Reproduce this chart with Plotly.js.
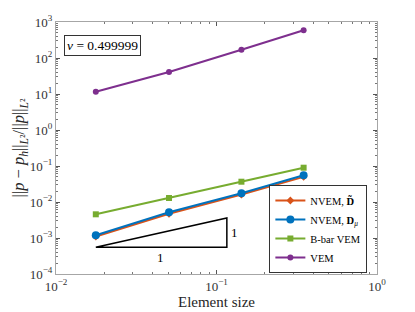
<!DOCTYPE html>
<html>
<head>
<meta charset="utf-8">
<script src="https://cdn.plot.ly/plotly-3.0.1.min.js"></script>
<style>html,body{margin:0;padding:0;background:#fff;}#chart{width:415px;height:312px;}</style>
</head>
<body>
<div id="chart"></div>
<script>
const elementSize = [0.0177, 0.0506, 0.143, 0.349];
const nvemDtilde = [0.00110, 0.0047, 0.0160, 0.050];
const nvemDmu = [0.00119, 0.00518, 0.0175, 0.0552];
const bbarVem = [0.00455, 0.0129, 0.0366, 0.0897];
const vem = [11.6, 40.8, 170, 588];
const triangleX = [0.0177, 0.116, 0.116, 0.0177];
const triangleY = [5.5e-4, 5.5e-4, 3.6e-3, 5.5e-4];
const xTickVals = [0.01, 0.1, 1];
const xTickText = ['10<sup>−2</sup>', '10<sup>−1</sup>', '10<sup>0</sup>'];
const yTickVals = [1e-4, 1e-3, 1e-2, 1e-1, 1, 10, 100, 1000];
const yTickText = ['10<sup>−4</sup>', '10<sup>−3</sup>', '10<sup>−2</sup>', '10<sup>−1</sup>', '10<sup>0</sup>', '10<sup>1</sup>', '10<sup>2</sup>', '10<sup>3</sup>'];

const serif = '"Liberation Serif", "DejaVu Serif", serif';

const traces = [
  {x: elementSize, y: nvemDtilde, mode: 'lines+markers', name: 'NVEM, <b>D̃</b>',
   line: {color: '#D95319', width: 2}, marker: {symbol: 'diamond', size: 6, color: '#D95319'}},
  {x: elementSize, y: nvemDmu, mode: 'lines+markers', name: 'NVEM, <b>D</b><sub><i>μ</i></sub>',
   line: {color: '#0072BD', width: 2}, marker: {symbol: 'circle', size: 8, color: '#0072BD'}},
  {x: elementSize, y: bbarVem, mode: 'lines+markers', name: 'B-bar VEM',
   line: {color: '#77AC30', width: 2}, marker: {symbol: 'square', size: 6, color: '#77AC30'}},
  {x: elementSize, y: vem, mode: 'lines+markers', name: 'VEM',
   line: {color: '#7E2F8E', width: 2}, marker: {symbol: 'circle', size: 6, color: '#7E2F8E'}},
  {x: triangleX, y: triangleY, mode: 'lines', showlegend: false, hoverinfo: 'skip',
   line: {color: '#000', width: 1.5}}
];

const axisCommon = {
  type: 'log', showgrid: false, zeroline: false, showline: true, mirror: 'allticks',
  linecolor: '#a6a6a6', linewidth: 1, ticks: 'inside', ticklen: 4, tickcolor: '#555',
  tickfont: {family: serif, size: 13, color: '#333'},
  minor: {ticks: 'inside', ticklen: 2, tickcolor: '#777', dtick: 'D1', showgrid: false}
};

const layout = {
  width: 415, height: 312,
  margin: {l: 56, r: 38, t: 22, b: 38},
  paper_bgcolor: '#fff', plot_bgcolor: '#fff',
  font: {family: serif, color: '#262626'},
  xaxis: Object.assign({}, axisCommon, {
    range: [-2, 0], tickvals: xTickVals, ticktext: xTickText,
    title: {text: 'Element size', font: {family: serif, size: 15, color: '#262626'}, standoff: 2}
  }),
  yaxis: Object.assign({}, axisCommon, {
    range: [-4, 3], tickvals: yTickVals, ticktext: yTickText,
    title: {text: '||<i>p</i> − <i>p<sub>h</sub></i>||<sub><i>L</i>²</sub>/||<i>p</i>||<sub><i>L</i>²</sub>',
            font: {family: serif, size: 16.5, color: '#262626'}, standoff: 0}
  }),
  showlegend: true,
  legend: {x: 0.97, y: 0.004, xanchor: 'right', yanchor: 'bottom',
           bgcolor: '#fff', bordercolor: '#333', borderwidth: 1,
           font: {family: serif, size: 10.5, color: '#000'},
           tracegroupgap: 0, itemwidth: 30},
  annotations: [
    {xref: 'paper', yref: 'paper', x: 0.025, y: 0.95, xanchor: 'left', yanchor: 'top',
     text: '<i>ν</i> = 0.499999', showarrow: false, font: {family: serif, size: 13.5, color: '#000'},
     bordercolor: '#333', borderwidth: 1, borderpad: 2, bgcolor: '#fff'},
    {x: Math.log10(0.116), y: Math.log10(1.4e-3), xanchor: 'left', yanchor: 'middle', xshift: 2,
     text: '1', showarrow: false, font: {family: serif, size: 13, color: '#000'}},
    {x: Math.log10(0.045), y: Math.log10(5.5e-4), xanchor: 'center', yanchor: 'top', yshift: -1,
     text: '1', showarrow: false, font: {family: serif, size: 13, color: '#000'}}
  ]
};

Plotly.newPlot('chart', traces, layout, {displayModeBar: false, staticPlot: true});
</script>
</body>
</html>
